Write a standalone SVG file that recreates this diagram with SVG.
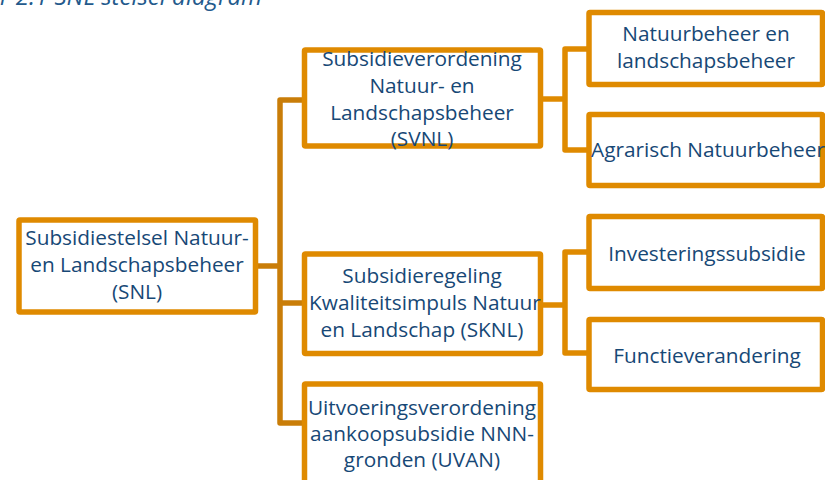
<svg xmlns="http://www.w3.org/2000/svg" width="825" height="480" viewBox="0 0 825 480">
<style>
.box{fill:#ffffff;stroke:#DF8A00;stroke-width:5.5;stroke-linejoin:round}
.t{font-family:"Open Sans","Noto Sans",sans-serif;font-size:20.8px;fill:#174876;text-anchor:middle}
.title{font-family:"Open Sans","Noto Sans",sans-serif;font-size:24px;font-style:italic;fill:#235A8C;text-anchor:end}
.cl{fill:none;stroke:#C97D08;stroke-width:5.5;stroke-linejoin:round}
.cr{fill:none;stroke:#DF8A00;stroke-width:5.5;stroke-linejoin:round}
</style>
<rect width="825" height="480" fill="#ffffff"/>
<text class="title" x="262" y="5">Figuur 2.1 SNL stelsel diagram</text>
<g id="connectors">
<path class="cl" d="M255 266 H280"/>
<path class="cl" d="M304.5 100 H280 V423 H304.5"/>
<path class="cl" d="M280 303 H304.5"/>
<path class="cr" d="M540 99 H565"/>
<path class="cr" d="M589 49 H565 V150 H589"/>
<path class="cr" d="M540.5 305 H565"/>
<path class="cr" d="M589 252 H565 V353 H589"/>
</g>
<g id="snl">
<rect class="box" x="19" y="220" width="236.5" height="92" rx="1"/>
<text class="t" x="137" y="245">Subsidiestelsel Natuur-</text>
<text class="t" x="137" y="272">en Landschapsbeheer</text>
<text class="t" x="137" y="299">(SNL)</text>
</g>
<g id="svnl">
<rect class="box" x="304.5" y="50" width="236" height="96" rx="1"/>
<text class="t" x="422" y="66">Subsidieverordening</text>
<text class="t" x="422" y="93">Natuur- en</text>
<text class="t" x="422" y="120">Landschapsbeheer</text>
<text class="t" x="422" y="146">(SVNL)</text>
</g>
<g id="sknl">
<rect class="box" x="304.5" y="254" width="236" height="99.5" rx="1"/>
<text class="t" x="422" y="283">Subsidieregeling</text>
<text class="t" x="425" y="310">Kwaliteitsimpuls Natuur</text>
<text class="t" x="422" y="337">en Landschap (SKNL)</text>
</g>
<g id="uvan">
<rect class="box" x="304.5" y="384" width="236" height="110" rx="1"/>
<text class="t" x="422" y="415">Uitvoeringsverordening</text>
<text class="t" x="422" y="441">aankoopsubsidie NNN-</text>
<text class="t" x="422" y="467">gronden (UVAN)</text>
</g>
<g id="natuurbeheer">
<rect class="box" x="589" y="12.5" width="233.5" height="72" rx="1"/>
<text class="t" x="706" y="41">Natuurbeheer en</text>
<text class="t" x="706" y="68">landschapsbeheer</text>
</g>
<g id="agrarisch">
<rect class="box" x="589" y="114.5" width="233.5" height="71" rx="1"/>
<text class="t" x="708" y="157">Agrarisch Natuurbeheer</text>
</g>
<g id="investeringssubsidie">
<rect class="box" x="589" y="216.5" width="233.5" height="72" rx="1"/>
<text class="t" x="707" y="261">Investeringssubsidie</text>
</g>
<g id="functieverandering">
<rect class="box" x="589" y="319.5" width="233.5" height="70" rx="1"/>
<text class="t" x="707" y="363">Functieverandering</text>
</g>
</svg>
